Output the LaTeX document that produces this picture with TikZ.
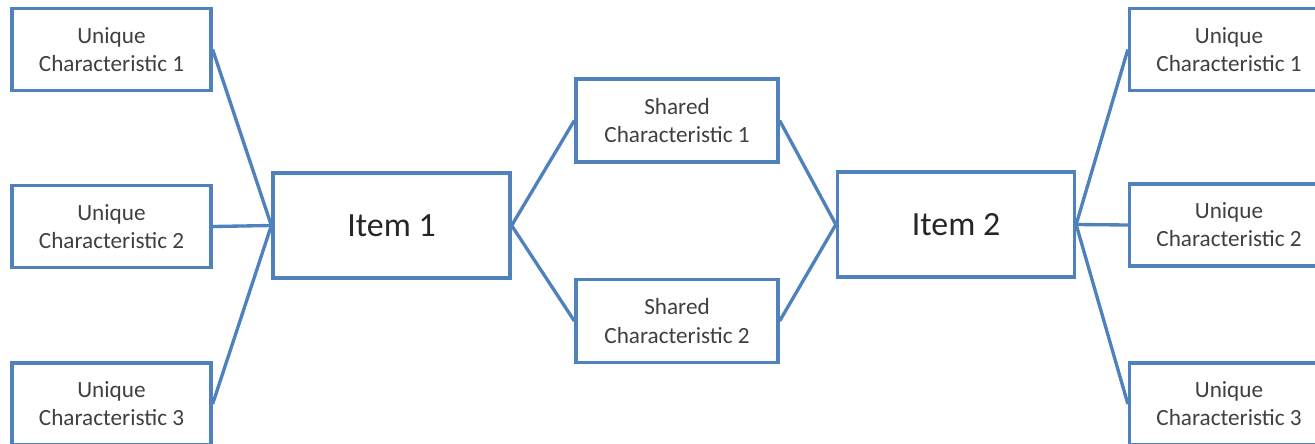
\documentclass[tikz,border=0pt]{standalone}
\usepackage{fontspec}
\setmainfont{Carlito}
\usepackage{xcolor}
\usepackage{tikz}
\usetikzlibrary{positioning}
\definecolor{linkblue}{HTML}{4F81BD}
\definecolor{txtgray}{HTML}{404040}
\tikzset{
  charbox/.style={draw=linkblue,line width=1.9pt,fill=white,text=txtgray,
    minimum width=3.98cm,minimum height=1.64cm,align=center,
    font=\fontsize{13.2}{16}\selectfont,inner sep=0pt},
  sharebox/.style={charbox,minimum width=4.04cm,minimum height=1.66cm},
  itembox/.style={draw=linkblue,line width=1.9pt,fill=white,text=black!85,
    minimum width=4.74cm,minimum height=2.1cm,
    font=\fontsize{19.3}{23}\selectfont},
  link/.style={draw=linkblue,line width=1.9pt}
}
\begin{document}
\begin{tikzpicture}[x=0.02cm,y=-0.02cm]
  % 枠
  \useasboundingbox (0,0) rectangle (1315,443);
  \clip (0,0) rectangle (1315,443);
  % 中央
  \node[itembox] (item1) at (391.5,225.5) {Item 1};
  \node[itembox] (item2) at (956,224.5) {Item 2};
  \node[sharebox] (sh1) at (677,120.5) {Shared\\Characteristic 1};
  \node[sharebox] (sh2) at (677,321) {Shared\\Characteristic 2};
  % 左
  \node[charbox] (l1) at (111.5,49.5) {Unique\\Characteristic 1};
  \node[charbox] (l2) at (111.5,226.5) {Unique\\Characteristic 2};
  \node[charbox] (l3) at (111.5,404) {Unique\\Characteristic 3};
  % 右
  \node[charbox] (r1) at (1229,49.5) {Unique\\Characteristic 1};
  \node[charbox] (r2) at (1229,225) {Unique\\Characteristic 2};
  \node[charbox] (r3) at (1229,404) {Unique\\Characteristic 3};
  % 線
  \foreach \n in {l1,l2,l3} \draw[link] (\n.east) -- (item1.west);
  \foreach \n in {r1,r2,r3} \draw[link] (\n.west) -- (item2.east);
  \foreach \n in {sh1,sh2} {
    \draw[link] (item1.east) -- (\n.west);
    \draw[link] (\n.east) -- (item2.west);
  }
\end{tikzpicture}
\end{document}
